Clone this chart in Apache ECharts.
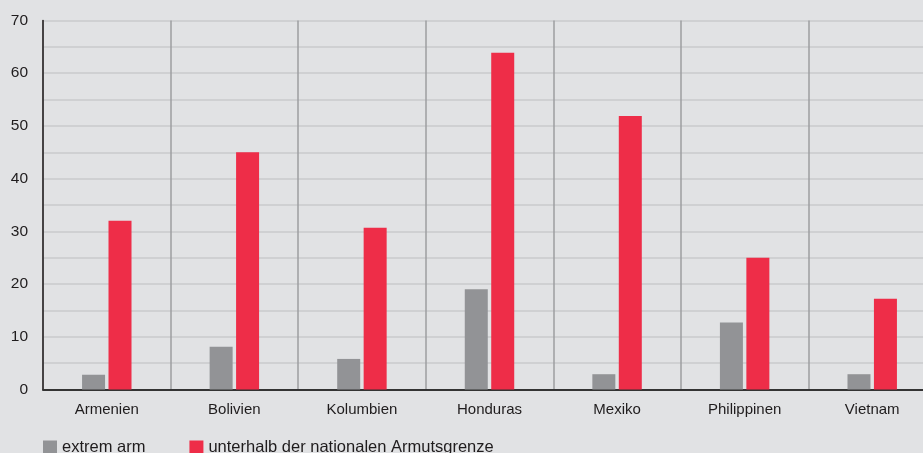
<!DOCTYPE html>
<html>
<head>
<meta charset="utf-8">
<script src="https://cdn.jsdelivr.net/npm/echarts@6/dist/echarts.min.js"></script>
<style>
html,body{margin:0;padding:0;background:#e1e2e4;overflow:hidden;width:923px;height:453px;}
#chart{width:936px;height:453px;}
</style>
</head>
<body>
<div id="chart"></div>
<script>
const categories = ['Armenien','Bolivien','Kolumbien','Honduras','Mexiko','Philippinen','Vietnam'];
const extremArm = [2.8, 8.1, 5.8, 19.0, 2.9, 12.7, 2.9];
const unterhalb = [32.0, 45.0, 30.7, 63.9, 51.9, 25.0, 17.2];
const seriesNames = ['extrem arm', 'unterhalb der nationalen Armutsgrenze'];
const yTicks = {min: 0, max: 70, interval: 10};

const font = '"Liberation Sans", Arial, sans-serif';
const chart = echarts.init(document.getElementById('chart'), null, {renderer: 'canvas'});
chart.setOption({
  backgroundColor: '#e1e2e4',
  animation: false,
  textStyle: {fontFamily: font},
  grid: {left: 43, right: 0, top: 20.5, bottom: 63.5},
  legend: {
    left: 43, top: 439, padding: 0,
    itemWidth: 14, itemHeight: 14, itemGap: 44,
    icon: 'rect',
    textStyle: {fontSize: 16.5, color: '#1f1c1d', fontFamily: font},
    data: seriesNames
  },
  xAxis: {
    type: 'category',
    data: categories,
    axisLine: {show: true, lineStyle: {color: '#333333', width: 2}},
    axisTick: {show: false},
    axisLabel: {fontSize: 15, color: '#1f1c1d', margin: 13, fontFamily: font},
    splitLine: {show: true, interval: 0, lineStyle: {color: '#9d9ea0', width: 1.5}}
  },
  yAxis: {
    type: 'value',
    min: yTicks.min, max: yTicks.max, interval: yTicks.interval,
    axisLine: {show: true, lineStyle: {color: '#231f20', width: 1.5}},
    axisTick: {show: false},
    axisLabel: {fontSize: 15.5, color: '#1f1c1d', margin: 15, fontFamily: font},
    splitLine: {show: true, lineStyle: {color: '#cfd0d2', width: 2}},
    minorTick: {show: false, splitNumber: 2},
    minorSplitLine: {show: true, lineStyle: {color: '#cfd0d2', width: 2}}
  },
  series: [
    {name: seriesNames[0], type: 'bar', data: extremArm, barWidth: 23, barGap: '15%',
     itemStyle: {color: '#929396'}},
    {name: seriesNames[1], type: 'bar', data: unterhalb, barWidth: 23, barGap: '15%',
     itemStyle: {color: '#ee2d48'}}
  ]
});
</script>
</body>
</html>
